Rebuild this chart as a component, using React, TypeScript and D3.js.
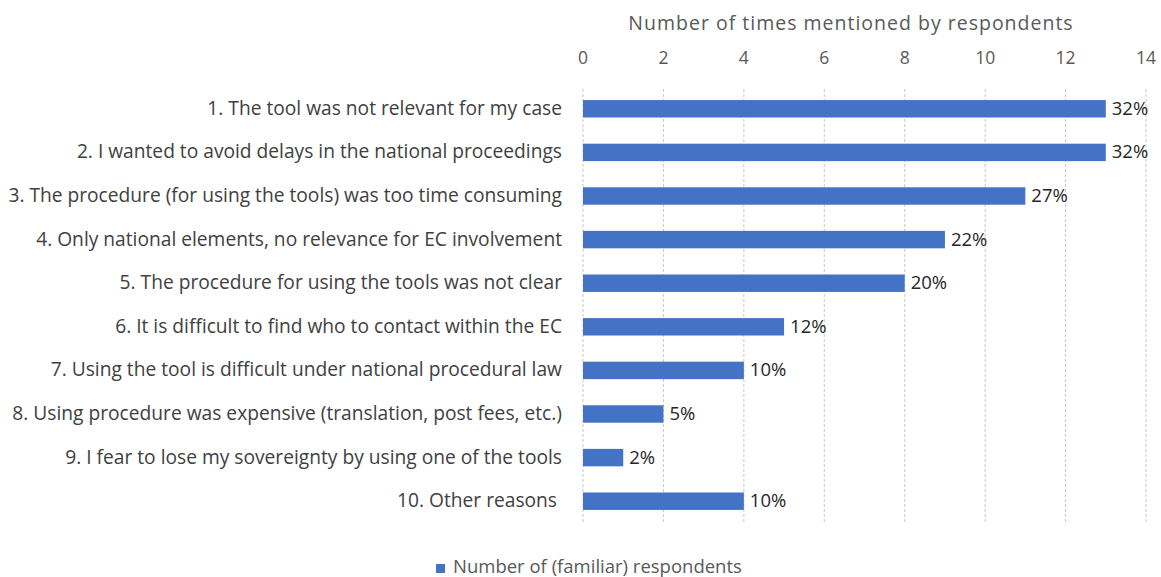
import React from "react";
import { scaleLinear, scaleBand, range } from "d3";

const reasons = [
  "1. The tool was not relevant for my case",
  "2. I wanted to avoid delays in the national proceedings",
  "3. The procedure (for using the tools) was too time consuming",
  "4. Only national elements, no relevance for EC involvement",
  "5. The procedure for using the tools was not clear",
  "6. It is difficult to find who to contact within the EC",
  "7. Using the tool is difficult under national procedural law",
  "8. Using procedure was expensive (translation, post fees, etc.)",
  "9. I fear to lose my sovereignty by using one of the tools",
  "10. Other reasons ",
];
const counts = [13, 13, 11, 9, 8, 5, 4, 2, 1, 4];
const shares = ["32%", "32%", "27%", "22%", "20%", "12%", "10%", "5%", "2%", "10%"];
const xTicks = [0, 2, 4, 6, 8, 10, 12, 14];

const W = 1161;
const H = 577;
const font = "'Open Sans', sans-serif";

export default function App() {
  let x = scaleLinear().domain([0, 14]).range([583, 1146]);
  let y = scaleBand<number>()
    .domain(range(reasons.length))
    .range([87, 523])
    .paddingInner(0.6)
    .paddingOuter(0.3);

  return (
    <svg width={W} height={H} style={{ position: "absolute", left: 0, top: 0, background: "#fff" }}>
      {/* axis title */}
      <text x={851} y={30} textAnchor="middle" fontFamily={font} fontSize={19.5} letterSpacing={1} fill="#595959">
        Number of times mentioned by respondents
      </text>

      {/* grid lines + ticks */}
      {xTicks.map((t) => (
        <g key={t}>
          <line
            x1={x(t)}
            x2={x(t)}
            y1={89}
            y2={524}
            stroke="#c8c8c8"
            strokeWidth={1}
            strokeDasharray="3,2"
          />
          <text x={x(t)} y={64} textAnchor="middle" fontFamily={font} fontSize={17.5} fill="#595959">
            {t}
          </text>
        </g>
      ))}

      {/* bars */}
      {counts.map((v, i) => {
        let yy = y(i) ?? 0;
        let bh = y.bandwidth();
        return (
          <g key={i}>
            <rect x={x(0)} y={yy} width={x(v) - x(0)} height={bh} fill="#4472C4" />
            <text
              x={x(v) + 6}
              y={yy + bh / 2 + 6}
              fontFamily={font}
              fontSize={18.5}
              fill="#262626"
            >
              {shares[i]}
            </text>
            <text
              x={562}
              y={yy + bh / 2 + 6}
              textAnchor="end"
              fontFamily={font}
              fontSize={19.2}
              fill="#404040"
              style={{ whiteSpace: "pre" }}
            >
              {reasons[i]}
            </text>
          </g>
        );
      })}

      {/* legend */}
      <rect x={436} y={564} width={9} height={9} fill="#4472C4" />
      <text x={453} y={573} fontFamily={font} fontSize={18.5} fill="#595959">
        Number of (familiar) respondents
      </text>
    </svg>
  );
}
